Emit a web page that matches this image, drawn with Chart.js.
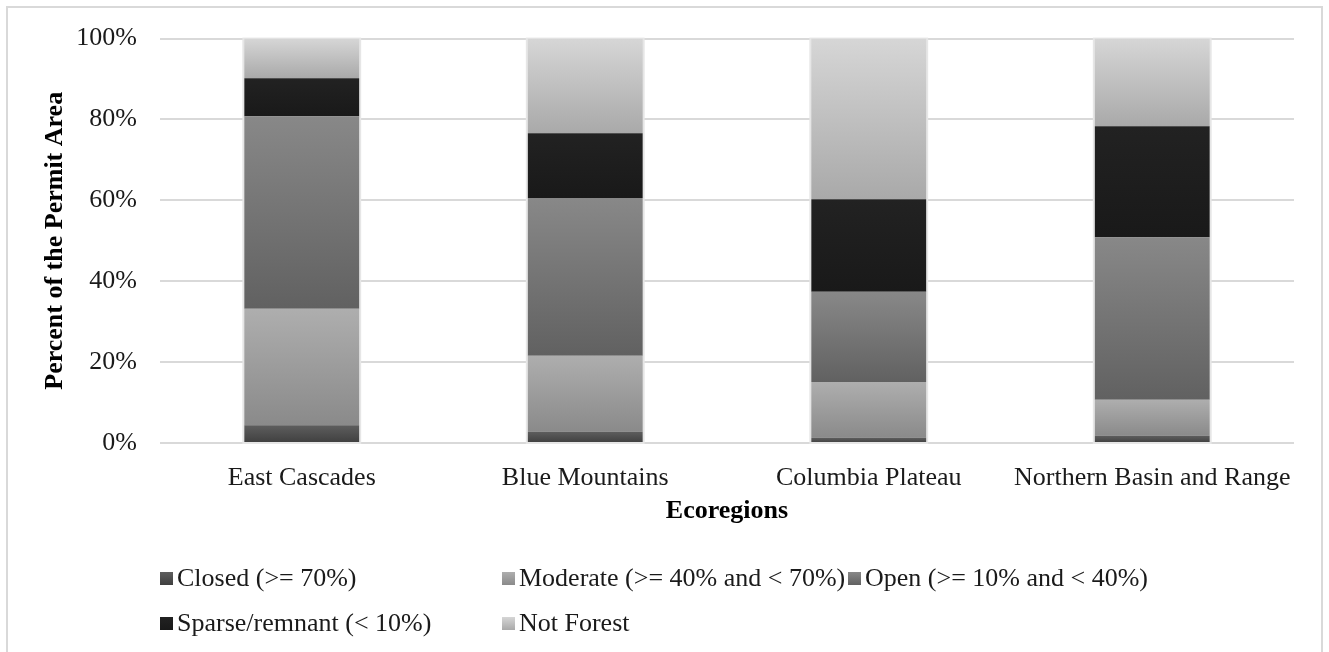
<!DOCTYPE html>
<html>
<head>
<meta charset="utf-8">
<title>Forest canopy cover by ecoregion</title>
<script src="https://cdn.jsdelivr.net/npm/chart.js@4/dist/chart.umd.min.js"></script>
<style>
  html, body { margin: 0; padding: 0; background: #fff; overflow: hidden; }
  canvas { display: block; }
</style>
</head>
<body>
<canvas id="coverChart" width="1329" height="652"></canvas>
<script>
// Ecoregions on the x axis
const ecoregions = ['East Cascades', 'Blue Mountains', 'Columbia Plateau', 'Northern Basin and Range'];

// Percent of permit area per canopy class (stacked bottom to top)
const closedPct   = [4.4, 2.8, 1.3, 1.8];
const moderatePct = [28.8, 18.8, 13.8, 8.9];
const openPct     = [47.6, 39.0, 22.3, 40.2];
const sparsePct   = [9.4, 16.0, 22.9, 27.4];
const notForestPct = [9.8, 23.4, 39.7, 21.7];

const yTicks = [0, 20, 40, 60, 80, 100];

const FONT = "'Liberation Serif', 'Times New Roman', serif";

// vertical gradient per stacked segment, light at the top, dark at the bottom
function segmentFill(topColor, bottomColor) {
  return (ctx) => {
    const chart = ctx.chart;
    const y = chart.scales.y;
    if (ctx.type !== 'data' || !y) return bottomColor;
    const i = ctx.dataIndex;
    let start = 0;
    for (let d = 0; d < ctx.datasetIndex; d++) {
      start += chart.data.datasets[d].data[i];
    }
    const end = start + chart.data.datasets[ctx.datasetIndex].data[i];
    const y0 = y.getPixelForValue(end);
    const y1 = y.getPixelForValue(start);
    if (!isFinite(y0) || !isFinite(y1) || y0 === y1) return bottomColor;
    const g = chart.ctx.createLinearGradient(0, y0, 0, y1);
    g.addColorStop(0, topColor);
    g.addColorStop(1, bottomColor);
    return g;
  };
}

const series = [
  { label: 'Closed (>= 70%)', data: closedPct, top: '#5e5e5e', bottom: '#3f3f3f' },
  { label: 'Moderate (>= 40% and < 70%)', data: moderatePct, top: '#aeaeae', bottom: '#8a8a8a' },
  { label: 'Open (>= 10% and < 40%)', data: openPct, top: '#888888', bottom: '#616161' },
  { label: 'Sparse/remnant (< 10%)', data: sparsePct, top: '#222222', bottom: '#191919' },
  { label: 'Not Forest', data: notForestPct, top: '#d6d6d6', bottom: '#a9a9a9' }
];

// outer frame of the chart
const frame = {
  id: 'frame',
  beforeDraw(chart) {
    const c = chart.ctx;
    c.save();
    c.fillStyle = '#fff';
    c.fillRect(0, 0, chart.width, chart.height);
    c.strokeStyle = '#d9d9d9';
    c.lineWidth = 2;
    c.strokeRect(7, 7, 1315, 720);
    c.restore();
  }
};

// faint halo behind each full stack
const stackHalo = {
  id: 'stackHalo',
  beforeDatasetsDraw(chart) {
    const c = chart.ctx;
    const first = chart.getDatasetMeta(0).data;
    const last = chart.getDatasetMeta(chart.data.datasets.length - 1).data;
    c.save();
    c.fillStyle = '#e6e6e6';
    first.forEach((bar, i) => {
      const top = last[i].y;
      const half = bar.width / 2;
      c.fillRect(bar.x - half - 2, top - 1, bar.width + 4, bar.base - top + 3);
    });
    c.restore();
  }
};

// legend laid out in fixed columns, three per row
const gridLegend = {
  id: 'gridLegend',
  afterDraw(chart) {
    const c = chart.ctx;
    const left = chart.chartArea.left;
    const colX = [0, 342, 688];
    const rowY = [578, 623];
    c.save();
    c.font = '26px ' + FONT;
    c.textBaseline = 'middle';
    series.forEach((s, k) => {
      const x = left + colX[k % 3];
      const y = rowY[Math.floor(k / 3)];
      const g = c.createLinearGradient(0, y - 6, 0, y + 7);
      g.addColorStop(0, s.top);
      g.addColorStop(1, s.bottom);
      c.fillStyle = g;
      c.fillRect(x, y - 6, 13, 13);
      c.fillStyle = '#1a1a1a';
      c.fillText(s.label, x + 17, y + 1);
    });
    c.restore();
  }
};

new Chart(document.getElementById('coverChart'), {
  type: 'bar',
  data: {
    labels: ecoregions,
    datasets: series.map(s => ({
      label: s.label,
      data: s.data,
      backgroundColor: segmentFill(s.top, s.bottom),
      borderWidth: 0,
      barPercentage: 0.405,
      categoryPercentage: 1.0
    }))
  },
  options: {
    responsive: false,
    animation: false,
    devicePixelRatio: 1,
    layout: {
      padding: { left: 0, right: 35, top: 38, bottom: 109 }
    },
    plugins: {
      legend: { display: false },
      tooltip: { enabled: false }
    },
    scales: {
      x: {
        stacked: true,
        grid: { display: false },
        border: { display: false },
        ticks: {
          color: '#1a1a1a',
          font: { family: FONT, size: 26 },
          padding: 12,
          maxRotation: 0
        },
        title: {
          display: true,
          text: 'Ecoregions',
          color: '#000',
          font: { family: FONT, size: 26, weight: 'bold' },
          padding: { top: 0, bottom: 16 }
        },
        afterFit(scale) { scale.height = 100; }
      },
      y: {
        stacked: true,
        min: 0,
        max: 100,
        afterBuildTicks(scale) {
          scale.ticks = yTicks.map(v => ({ value: v }));
        },
        grid: {
          color: '#d9d9d9',
          lineWidth: 2,
          drawTicks: false
        },
        border: { display: false },
        ticks: {
          color: '#1a1a1a',
          font: { family: FONT, size: 26 },
          padding: 23,
          callback: v => v + '%'
        },
        title: {
          display: true,
          text: 'Percent of the Permit Area',
          color: '#000',
          font: { family: FONT, size: 26, weight: 'bold' },
          padding: { top: 40, bottom: 0 }
        },
        afterFit(scale) { scale.width = 160; }
      }
    }
  },
  plugins: [frame, stackHalo, gridLegend]
});
</script>
</body>
</html>
